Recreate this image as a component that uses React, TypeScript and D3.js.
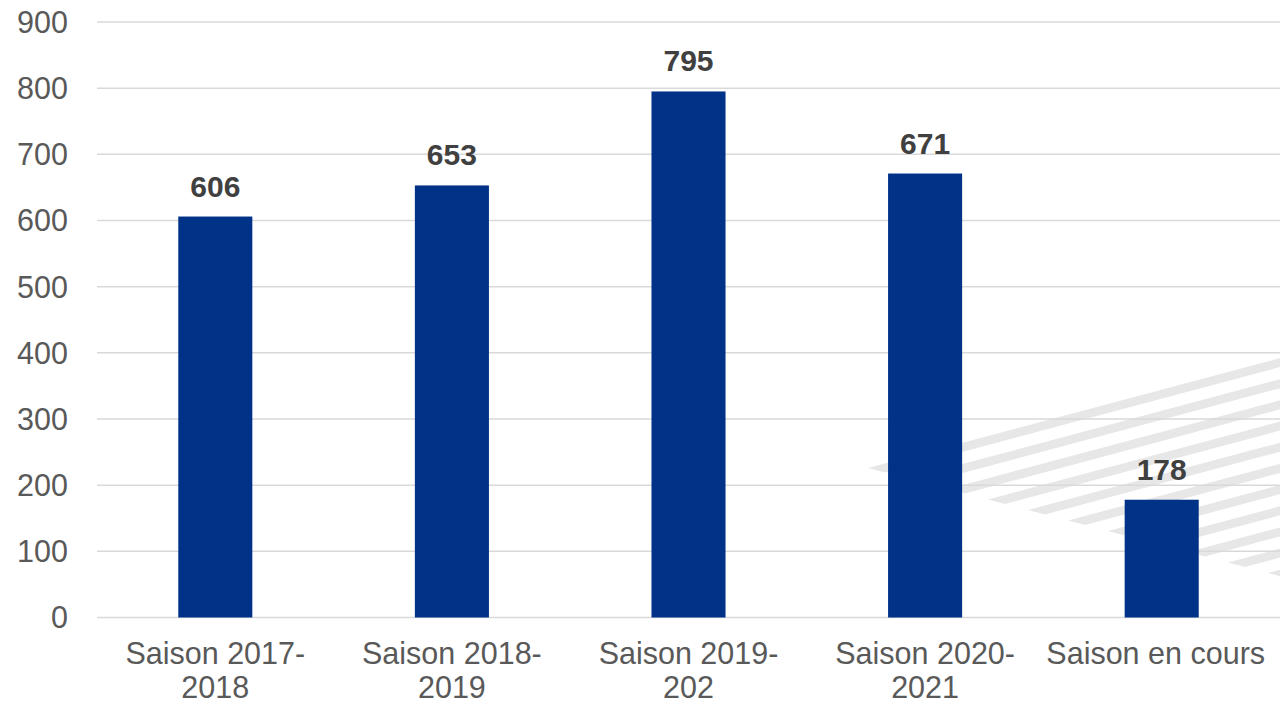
import * as d3 from "d3";

const WIDTH = 1280;
const HEIGHT = 705;
const MARGIN = { top: 22, right: 0, bottom: 88, left: 97 };

const categories = [
  ["Saison 2017-", "2018"],
  ["Saison 2018-", "2019"],
  ["Saison 2019-", "202"],
  ["Saison 2020-", "2021"],
  ["Saison en cours"],
];
const values = [606, 653, 795, 671, 178];
const yTicks = [0, 100, 200, 300, 400, 500, 600, 700, 800, 900];

const FONT = "'Liberation Sans', Arial, sans-serif";

// decorative grey stripes in the lower-right background
const Stripes = () => {
  const slope = 0.267;
  const t = 9;
  const polys: string[] = [];
  for (let k = 0; k <= 10; k++) {
    const x0 = 868 + 40 * k;
    const y0 = 468 + 10.5 * k;
    const yR = y0 - slope * (WIDTH - x0);
    const pts = [
      [x0, y0],
      [WIDTH, yR],
      [WIDTH, yR + t],
      [x0 + 17, y0 + 4.5],
    ];
    polys.push(pts.map((p) => p.join(",")).join(" "));
  }
  return (
    <g>
      {polys.map((p, i) => (
        <polygon key={i} points={p} fill="#e7e7e7" />
      ))}
    </g>
  );
};

export default function App() {
  const boundsWidth = WIDTH - MARGIN.left - MARGIN.right;
  const boundsHeight = HEIGHT - MARGIN.top - MARGIN.bottom;

  const xScale = d3
    .scaleBand<number>()
    .domain(values.map((_, i) => i))
    .range([0, boundsWidth])
    .paddingInner(0.687)
    .paddingOuter(0.3435);

  const yScale = d3.scaleLinear().domain([0, 900]).range([boundsHeight + 0.5, 0]);

  return (
    <div style={{ position: "absolute", left: 0, top: 0 }}>
      <svg width={WIDTH} height={HEIGHT} style={{ display: "block", background: "#fff" }}>
        <Stripes />
        <g transform={`translate(${MARGIN.left},${MARGIN.top})`}>
          {yTicks.map((t) => (
            <g key={t}>
              <line x1={0} x2={boundsWidth} y1={yScale(t)} y2={yScale(t)} stroke="#d9d9d9" strokeWidth={1.5} />
              <text
                x={-29}
                y={yScale(t)}
                dy="0.36em"
                textAnchor="end"
                fontFamily={FONT}
                fontSize={30.5}
                fill="#595959"
              >
                {t}
              </text>
            </g>
          ))}
          {values.map((v, i) => {
            const x = xScale(i) ?? 0;
            const cx = x + xScale.bandwidth() / 2;
            // keep the last label inside the right edge
            const lx = i === values.length - 1 ? cx - 6 : cx;
            return (
              <g key={i}>
                <rect
                  x={x}
                  y={yScale(v)}
                  width={xScale.bandwidth()}
                  height={yScale(0) - yScale(v)}
                  fill="#003288"
                />
                <text
                  x={cx}
                  y={yScale(v) - 20}
                  textAnchor="middle"
                  fontFamily={FONT}
                  fontSize={30}
                  fontWeight="bold"
                  fill="#404040"
                >
                  {v}
                </text>
                {categories[i].map((line, j) => (
                  <text
                    key={j}
                    x={lx}
                    y={boundsHeight + 47 + j * 34}
                    textAnchor="middle"
                    fontFamily={FONT}
                    fontSize={30.5}
                    fill="#595959"
                  >
                    {line}
                  </text>
                ))}
              </g>
            );
          })}
        </g>
      </svg>
    </div>
  );
}
